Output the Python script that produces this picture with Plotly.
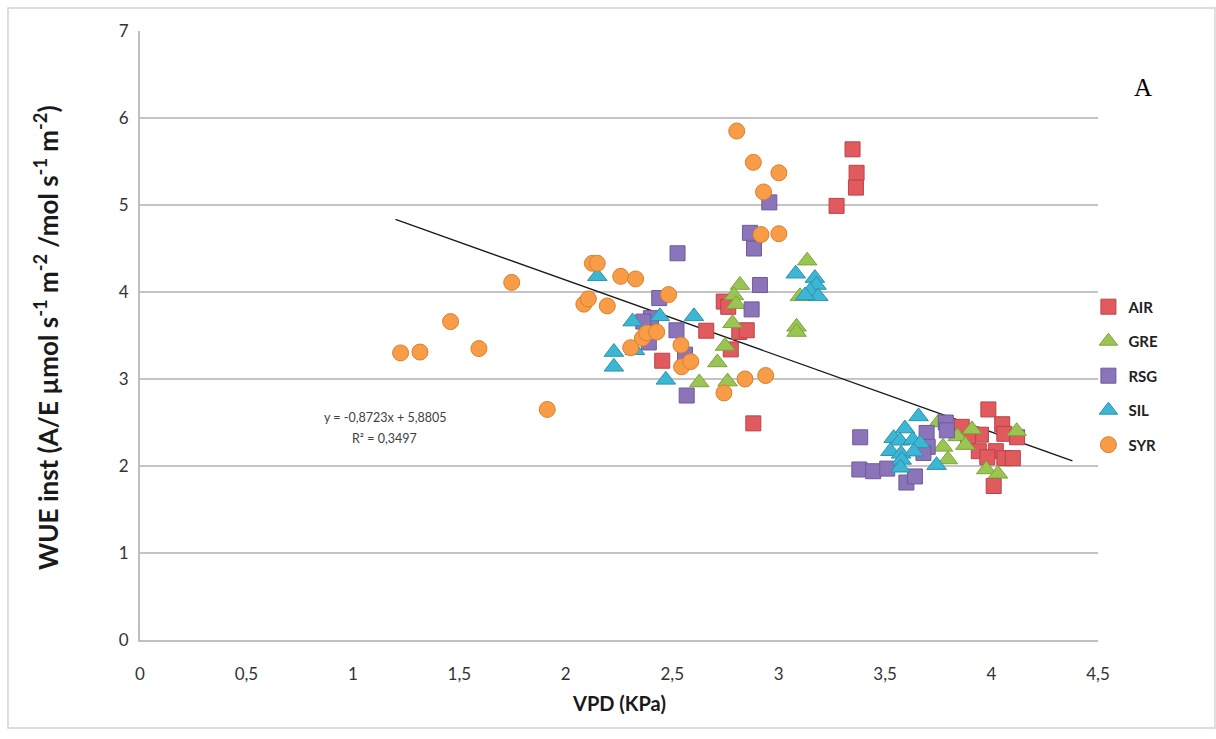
import plotly.graph_objects as go

# VPD (KPa) and instantaneous WUE per site
air_vpd = [3.347, 3.366, 3.363, 3.272, 2.742, 2.763, 2.660, 2.815, 2.850, 2.775, 2.453, 2.881,
           3.985, 4.050, 3.860, 3.950, 3.890, 4.060, 4.120, 3.940, 4.020, 4.060, 4.100, 3.980, 4.010]
air_wue = [5.64, 5.37, 5.20, 4.99, 3.89, 3.83, 3.555, 3.54, 3.56, 3.34, 3.21, 2.49,
           2.65, 2.48, 2.45, 2.36, 2.30, 2.37, 2.33, 2.17, 2.17, 2.09, 2.09, 2.10, 1.77]

gre_vpd = [3.134, 2.818, 2.790, 2.800, 3.100, 3.084, 3.084, 2.783, 2.748, 2.712, 2.760, 2.627,
           3.750, 3.908, 4.118, 3.840, 3.877, 3.772, 3.795, 3.975, 4.030]
gre_wue = [4.36, 4.08, 3.96, 3.86, 3.95, 3.60, 3.54, 3.64, 3.38, 3.19, 2.97, 2.96,
           2.50, 2.42, 2.40, 2.34, 2.24, 2.22, 2.075, 1.96, 1.91]

rsg_vpd = [2.956, 2.865, 2.884, 2.912, 2.873, 2.525, 2.439, 2.400, 2.364, 2.520, 2.390, 2.560, 2.568,
           3.383, 3.379, 3.444, 3.510, 3.600, 3.640, 3.695, 3.700, 3.680, 3.785, 3.790]
rsg_wue = [5.03, 4.68, 4.50, 4.08, 3.80, 4.445, 3.93, 3.70, 3.66, 3.56, 3.42, 3.28, 2.81,
           2.33, 1.96, 1.94, 1.97, 1.81, 1.88, 2.38, 2.22, 2.15, 2.50, 2.41]

sil_vpd = [3.080, 3.170, 3.178, 3.147, 3.186, 3.124, 2.148, 2.314, 2.442, 2.602, 2.226, 2.226, 2.470, 2.325,
           3.657, 3.593, 3.540, 3.570, 3.630, 3.665, 3.525, 3.575, 3.635, 3.578, 3.572, 3.742]
sil_wue = [4.21, 4.16, 4.08, 4.01, 3.95, 3.96, 4.18, 3.66, 3.72, 3.72, 3.31, 3.14, 2.99, 3.33,
           2.57, 2.43, 2.32, 2.29, 2.30, 2.26, 2.17, 2.14, 2.165, 2.07, 1.98, 2.01]

syr_vpd = [1.224, 1.315, 1.459, 1.592, 1.746, 1.913, 2.085, 2.106, 2.125, 2.148, 2.195, 2.258, 2.328,
           2.305, 2.360, 2.380, 2.427, 2.483, 2.541, 2.544, 2.587, 2.743, 2.803, 2.842, 2.881, 2.917,
           2.929, 2.939, 3.001, 3.001]
syr_wue = [3.30, 3.31, 3.66, 3.35, 4.11, 2.65, 3.86, 3.92, 4.33, 4.33, 3.84, 4.18, 4.15,
           3.36, 3.47, 3.53, 3.54, 3.97, 3.39, 3.14, 3.20, 2.84, 5.85, 3.00, 5.49, 4.66,
           5.15, 3.04, 5.37, 4.67]

# linear trend: y = slope * x + intercept
trend_slope = -0.8723
trend_intercept = 5.8805
trend_r2 = 0.3497
trend_x = [1.2, 4.38]

x_ticks = [0, 0.5, 1, 1.5, 2, 2.5, 3, 3.5, 4, 4.5]
x_tick_text = ["0", "0,5", "1", "1,5", "2", "2,5", "3", "3,5", "4", "4,5"]
y_ticks = [0, 1, 2, 3, 4, 5, 6, 7]

series = [
    ("AIR", air_vpd, air_wue, "square", 15, "#E05A5E", "#B8444A"),
    ("GRE", gre_vpd, gre_wue, "triangle-up", 17, "#9BC552", "#7DA33C"),
    ("RSG", rsg_vpd, rsg_wue, "square", 15, "#8C74BA", "#6F5A9A"),
    ("SIL", sil_vpd, sil_wue, "triangle-up", 17, "#3CB6D3", "#2A93AE"),
    ("SYR", syr_vpd, syr_wue, "circle", 16, "#F89C48", "#D9802F"),
]

fig = go.Figure()

fig.add_trace(go.Scatter(
    x=trend_x,
    y=[trend_slope * v + trend_intercept for v in trend_x],
    mode="lines", line=dict(color="#1A1A1A", width=1.4),
    showlegend=False, hoverinfo="skip",
))

for name, xs, ys, sym, size, fill, edge in series:
    fig.add_trace(go.Scatter(
        x=xs, y=ys, mode="markers", name=name, legendgroup=name,
        marker=dict(symbol=sym, size=size, color=fill, line=dict(color=edge, width=1)),
    ))

font_main = "Lato, 'Open Sans', sans-serif"

fig.update_layout(
    width=1216, height=739,
    margin=dict(l=140, r=118, t=31, b=99),
    paper_bgcolor="white", plot_bgcolor="white",
    font=dict(family=font_main, color="#333333"),
    xaxis=dict(
        range=[0, 4.5], tickvals=x_ticks, ticktext=x_tick_text,
        showgrid=False, zeroline=False,
        showline=True, linecolor="#BFBFBF", linewidth=2,
        ticks="outside", ticklen=18, tickcolor="rgba(0,0,0,0)",
        tickfont=dict(size=17, color="#333333"),
    ),
    yaxis=dict(
        range=[0, 7], tickvals=y_ticks,
        showgrid=True, gridcolor="#C4C4C4", gridwidth=2, zeroline=False,
        showline=True, linecolor="#BFBFBF", linewidth=2,
        ticks="outside", ticklen=6, tickcolor="rgba(0,0,0,0)",
        tickfont=dict(size=17, color="#333333"),
    ),
    legend=dict(
        x=0.99, y=0.574, xanchor="left", yanchor="top",
        font=dict(size=15, color="#222222", family=font_main, weight="bold"),
        tracegroupgap=12, itemwidth=30,
        bgcolor="rgba(0,0,0,0)",
    ),
    shapes=[dict(
        type="rect", xref="paper", yref="paper",
        x0=-0.1378, x1=1.1221, y0=-0.1445, y1=1.0378,
        line=dict(color="#D4D4D4", width=1.5), layer="below",
    )],
    annotations=[
        dict(
            text="WUE inst (A/E µmol s<sup>-1</sup> m<sup>-2</sup> /mol s<sup>-1</sup> m<sup>-2</sup>)",
            xref="paper", yref="paper", x=-0.097, y=0.496,
            xanchor="center", yanchor="middle",
            textangle=-90, showarrow=False,
            font=dict(size=26, color="#1A1A1A", family=font_main, weight="bold"),
        ),
        dict(
            text="VPD (KPa)", xref="paper", yref="paper", x=0.5, y=-0.103,
            xanchor="center", yanchor="middle",
            showarrow=False,
            font=dict(size=20, color="#1A1A1A", family=font_main, weight="bold"),
        ),
        dict(
            text=f"y = {trend_slope:.4f}x + {trend_intercept:.4f}".replace(".", ","),
            xref="x", yref="y", x=1.15, y=2.56, showarrow=False,
            font=dict(size=12.5, color="#404040", family=font_main),
        ),
        dict(
            text=f"R² = {trend_r2:.4f}".replace(".", ","),
            xref="x", yref="y", x=1.15, y=2.32, showarrow=False,
            font=dict(size=12.5, color="#404040", family=font_main),
        ),
        dict(
            text="A", xref="paper", yref="paper", x=1.0585, y=0.932,
            showarrow=False,
            font=dict(size=25, color="#000000", family="'Liberation Serif', serif"),
        ),
    ],
)

fig.write_html("out.html")
